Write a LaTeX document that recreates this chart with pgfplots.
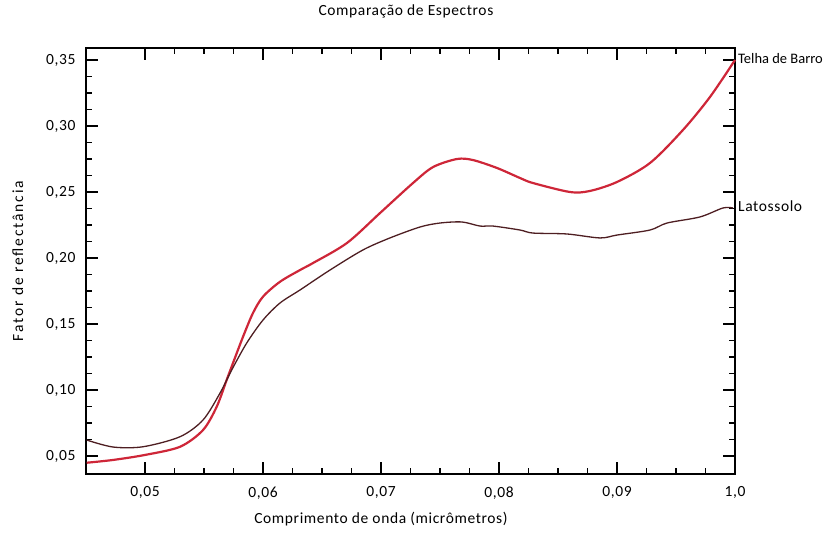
\documentclass[border=0pt]{standalone}
\usepackage{pgfplots}
\pgfplotsset{compat=1.18}
\usepackage{fontspec}
\setmainfont{Carlito}[LetterSpace=4]
\newfontfamily\wideCarlito{Carlito}[LetterSpace=12]
\newfontfamily\plainCarlito{Carlito}
\definecolor{telha}{RGB}{206,38,56}
\definecolor{latos}{RGB}{78,30,34}
\begin{document}
\begin{tikzpicture}
\begin{axis}[
  scale only axis,
  width=649pt, height=426pt,
  xmin=4.5, xmax=10,
  ymin=0.03636, ymax=0.3591,
  xtick={5,6,7,8,9,10},
  xticklabels={{0,05},{0,06},{0,07},{0,08},{0,09},{1,0}},
  ytick={0.05,0.10,0.15,0.20,0.25,0.30,0.35},
  yticklabels={{0,05},{0,10},{0,15},{0,20},{0,25},{0,30},{0,35}},
  minor x tick num=3,
  minor y tick num=3,
  tick align=inside,
  major tick length=12pt,
  minor tick length=6pt,
  every tick/.style={black, line width=1.3pt},
  axis line style={line width=1.6pt},
  font=\fontsize{15.5}{18}\selectfont,
  tick label style={font=\fontsize{15.5}{18}\selectfont},
  /pgf/number format/assume math mode=true,
  yticklabel style={xshift=-7pt},
  xticklabel style={yshift=-9pt},
  title={Comparação de Espectros},
  title style={at={(axis description cs:0.493,1.0728)},anchor=center,font=\fontsize{15.5}{18}\selectfont},
  xlabel={Comprimento de onda (micrômetros)},
  xlabel style={at={(axis description cs:0.4545,-0.1056)},anchor=center},
  ylabel={\wideCarlito Fator de reflectância},
  ylabel style={at={(axis description cs:-0.105,0.5)},anchor=center},
  clip=false,
]
% Telha de Barro
\addplot[telha, line width=2.2pt, smooth, tension=0.5] coordinates {
  (4.506,0.0449) (4.729,0.0470) (5.0,0.0508) (5.297,0.0570) (5.492,0.0697)
  (5.608,0.0874) (5.692,0.1076) (5.746,0.1205) (5.831,0.1404) (5.915,0.1583)
  (6.0,0.1707) (6.144,0.1820) (6.314,0.1909) (6.424,0.1962) (6.712,0.2114)
  (6.992,0.2341) (7.271,0.2568) (7.441,0.2689) (7.644,0.2750) (7.780,0.2742)
  (7.983,0.2682) (8.178,0.2606) (8.288,0.2568) (8.602,0.2500) (8.771,0.2508)
  (9.0,0.2576) (9.280,0.2720) (9.559,0.2970) (9.788,0.3220) (10.0,0.3500)
};
% Latossolo
\addplot[latos, line width=1.3pt, smooth, tension=0.5] coordinates {
  (4.506,0.0621) (4.729,0.0568) (4.983,0.0570) (5.297,0.0646) (5.492,0.0773)
  (5.636,0.0977) (5.735,0.1152) (5.862,0.1356) (6.0,0.1530) (6.144,0.1659)
  (6.314,0.1758) (6.568,0.1909) (6.847,0.2061) (7.076,0.2152) (7.331,0.2235)
  (7.500,0.2265) (7.686,0.2273) (7.839,0.2242) (7.949,0.2242) (8.178,0.2212)
  (8.288,0.2189) (8.576,0.2182) (8.856,0.2152) (9.0,0.2174) (9.280,0.2212)
  (9.424,0.2265) (9.703,0.2311) (9.898,0.2379) (9.983,0.2379)
};
\node[anchor=west, inner sep=0pt, font=\plainCarlito\fontsize{14.5}{17}\selectfont] at (axis cs:10,0.3515) {\hspace{3pt}Telha de Barro};
\node[anchor=west, inner sep=0pt] at (axis cs:10,0.2394) {\hspace{3pt}Latossolo};
\end{axis}
\pgfresetboundingbox
\path ([shift={(-86pt,-59pt)}]current axis.south west) rectangle ([shift={(96pt,48pt)}]current axis.north east);
\end{tikzpicture}
\end{document}
